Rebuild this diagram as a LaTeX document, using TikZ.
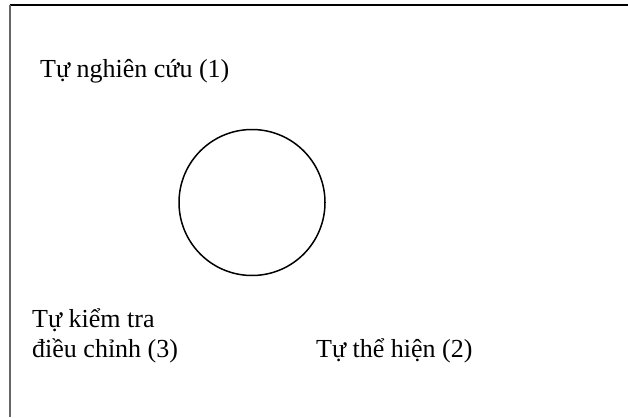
\documentclass[tikz,border=0pt]{standalone}
\usepackage{fontspec}
\setmainfont{Liberation Serif}
\begin{document}
\begin{tikzpicture}[x=1pt,y=-1pt,
  lbl/.style={anchor=base west,inner sep=0pt,font=\fontsize{26}{30}\selectfont,align=left},
  ring/.style={draw=black,line width=1.5pt,circle,minimum size=146pt,inner sep=0pt}]
\useasboundingbox (0,0) rectangle (628,417);
\coordinate (tl) at (9.5,5);
\coordinate (tr) at (628,5);
\coordinate (bl) at (9.5,417);
\draw[line width=1.2pt] (tl) -- (tr);
\draw[line width=2pt,draw=black!60] (tl) -- (bl);
\node[ring] (c) at (252,202.5) {};
\node[lbl] (n1) at (40,78) {Tự nghiên cứu (1)};
\node[lbl] (n3a) at (32,327) {Tự kiểm tra};
\node[lbl] (n3b) at (32,357) {điều chỉnh (3)};
\node[lbl] (n2) at (316,357) {Tự thể hiện (2)};
\end{tikzpicture}
\end{document}
